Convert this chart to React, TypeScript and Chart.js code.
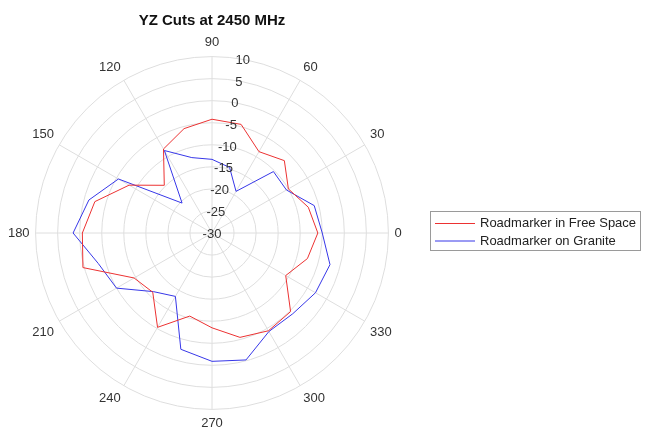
import React, { useEffect, useRef } from 'react';
import { Chart, registerables } from 'chart.js';

Chart.register(...registerables);

const TITLE = 'YZ Cuts at 2450 MHz';
// measurement angles (degrees, counter-clockwise from 0 at the right)
const ANGLES = [0, 15, 30, 45, 60, 75, 90, 105, 120, 135, 150, 165, 180, 195, 210, 225, 240, 255, 270, 285, 300, 315, 330, 345];
// gain in dB at each angle
const FREE_SPACE = [-6.0, -7.4, -10.0, -6.8, -8.7, -4.5, -4.2, -5.5, -8.0, -14.7, -8.3, -2.5, -0.6, 0.3, -9.6, -11.0, -5.3, -10.5, -8.5, -5.5, -4.4, -4.8, -10.7, -7.6];
const GRANITE = [-5.0, -6.0, -10.5, -10.3, -19.1, -14.6, -13.3, -12.3, -8.4, -20.4, -5.5, -1.1, 1.5, -3.3, -5.0, -11.2, -13.4, -2.7, -0.9, -0.2, -4.2, -4.1, -2.9, -2.3];
const SERIES_NAMES = ['Roadmarker in Free Space', 'Roadmarker on Granite'];
const SERIES_COLORS = ['rgb(236,50,50)', 'rgb(55,55,232)'];
const R_MIN = -30;
const R_MAX = 10;
const R_STEP = 5;
const ANGLE_LABEL_STEP = 30;
const R_LABEL_ANGLE = 80;

const FONT = '"Liberation Sans", Arial, Helvetica, sans-serif';

// radar goes clockwise from the top; polar plot goes counter-clockwise from the right
const STEP = 360 / ANGLES.length;
const ORDER = ANGLES.map((_, i) => ((90 - i * STEP) % 360 + 360) % 360);
const RADAR_LABELS = ORDER.map((a) => String(a));
const pick = (arr: number[]) => ORDER.map((a) => arr[ANGLES.indexOf(a)]);

const overlay = {
  id: 'overlay',
  afterDraw(chart: any) {
    const ctx = chart.ctx as CanvasRenderingContext2D;
    const s = chart.scales.r;
    ctx.save();
    // radial tick labels along the 80 degree direction
    ctx.font = `13px ${FONT}`;
    ctx.fillStyle = '#333333';
    ctx.textAlign = 'center';
    ctx.textBaseline = 'middle';
    const a = (R_LABEL_ANGLE * Math.PI) / 180;
    s.ticks.forEach((t: any) => {
      const r = s.getDistanceFromCenterForValue(t.value);
      ctx.fillText(String(t.value), s.xCenter + r * Math.cos(a), s.yCenter - r * Math.sin(a) + 1);
    });
    // title
    ctx.font = `bold 15px ${FONT}`;
    ctx.fillStyle = '#111111';
    ctx.fillText(TITLE, s.xCenter, 21);
    // legend
    const bx = 430.5, by = 211.5, bw = 210, bh = 39;
    ctx.fillStyle = '#ffffff';
    ctx.fillRect(bx, by, bw, bh);
    ctx.strokeStyle = '#9a9a9a';
    ctx.lineWidth = 1;
    ctx.strokeRect(bx, by, bw, bh);
    ctx.font = `13px ${FONT}`;
    ctx.textAlign = 'left';
    chart.data.datasets.forEach((ds: any, i: number) => {
      const y = 223.5 + i * 17.5;
      ctx.strokeStyle = ds.borderColor;
      ctx.beginPath();
      ctx.moveTo(435, y);
      ctx.lineTo(475, y);
      ctx.stroke();
      ctx.fillStyle = '#222222';
      ctx.fillText(ds.label, 480, y);
    });
    ctx.restore();
  },
};

export default function App() {
  const ref = useRef<HTMLCanvasElement | null>(null);
  useEffect(() => {
    if (!ref.current) return;
    const chart = new Chart(ref.current, {
      type: 'radar',
      data: {
        labels: RADAR_LABELS,
        datasets: [
          {
            label: SERIES_NAMES[0],
            data: pick(FREE_SPACE),
            borderColor: SERIES_COLORS[0],
            borderWidth: 1,
            pointRadius: 0,
            fill: false,
            tension: 0,
          },
          {
            label: SERIES_NAMES[1],
            data: pick(GRANITE),
            borderColor: SERIES_COLORS[1],
            borderWidth: 1,
            pointRadius: 0,
            fill: false,
            tension: 0,
          },
        ],
      },
      options: {
        animation: false,
        responsive: true,
        maintainAspectRatio: false,
        events: [],
        layout: { padding: { left: 0, right: 245, top: 36, bottom: 7 } },
        plugins: {
          legend: { display: false },
          title: { display: false },
          tooltip: { enabled: false },
        },
        scales: {
          r: {
            min: R_MIN,
            max: R_MAX,
            startAngle: 0,
            ticks: { stepSize: R_STEP, display: false },
            grid: { circular: true, color: '#dedede', lineWidth: 1 },
            angleLines: {
              display: true,
              color: '#dedede',
              lineWidth: (ctx: any) => (Number(RADAR_LABELS[ctx.index]) % ANGLE_LABEL_STEP === 0 ? 1 : 0),
            },
            pointLabels: {
              display: true,
              padding: 6,
              color: '#333333',
              font: { size: 13, family: FONT },
              callback: (label: string) => (Number(label) % ANGLE_LABEL_STEP === 0 ? label : ''),
            },
          },
        },
      },
      plugins: [overlay],
    });
    return () => chart.destroy();
  }, []);
  return (
    <div style={{ position: 'fixed', left: 0, top: 0, width: 655, height: 439, background: '#fff' }}>
      <canvas ref={ref} />
    </div>
  );
}
